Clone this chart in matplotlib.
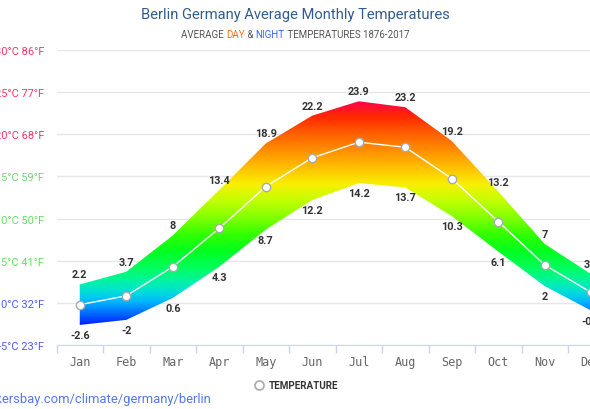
import numpy as np
import matplotlib
matplotlib.use("Agg")
import matplotlib.pyplot as plt
from matplotlib.colors import LinearSegmentedColormap
from matplotlib.lines import Line2D

months = ["Jan", "Feb", "Mar", "Apr", "May", "Jun", "Jul", "Aug", "Sep", "Oct", "Nov", "Dec"]
day_high = [2.2, 3.7, 8.0, 13.4, 18.9, 22.2, 23.9, 23.2, 19.2, 13.2, 7.0, 3.4]
night_low = [-2.6, -2.0, 0.6, 4.3, 8.7, 12.2, 14.2, 13.7, 10.3, 6.1, 2.0, -0.9]
avg_temp = [-0.2, 0.85, 4.3, 8.85, 13.8, 17.2, 19.05, 18.45, 14.75, 9.65, 4.5, 1.25]
ytick_c = [-5, 0, 5, 10, 15, 20, 25, 30]
ytick_labels = ["-5°C 23°F", "0°C 32°F", "5°C 41°F", "10°C 50°F", "15°C 59°F",
                "20°C 68°F", "25°C 77°F", "30°C 86°F"]
ytick_colors = ["#4a5cff", "#4a5cff", "#66dd66", "#66dd66", "#66dd66",
                "#ff3366", "#ff3366", "#ff3366"]

W, H = 590, 410
fig = plt.figure(figsize=(W / 100, H / 100), dpi=100)
fig.patch.set_facecolor("white")

ax_left, ax_right = 56.5, 614.5
ax_top, ax_bot = 50.8, 346.2
ax = fig.add_axes([ax_left / W, (H - ax_bot) / H, (ax_right - ax_left) / W, (ax_bot - ax_top) / H])
ax.set_facecolor("white")
ax.set_xlim(-0.5, 11.5)
ax.set_ylim(-5, 30)

# gridlines
ax.set_yticks(ytick_c)
ax.set_yticklabels(ytick_labels, fontfamily="Roboto", fontsize=7.9)
for lbl, col in zip(ax.get_yticklabels(), ytick_colors):
    lbl.set_color(col)
ax.tick_params(axis="y", length=0, pad=9)
ax.grid(axis="y", color="#e6e6e6", linewidth=1)
ax.set_axisbelow(True)

x = np.arange(len(months))
ax.set_xticks(x)
ax.set_xticklabels(months, fontfamily="DejaVu Sans Mono", fontsize=8.5, color="#666666")
ax.set_xticks(np.arange(-0.5, 12, 1), minor=True)
ax.tick_params(axis="x", which="major", length=0, pad=7)
ax.tick_params(axis="x", which="minor", length=6, color="#ccd6eb", width=1)
for s in ["top", "right", "left"]:
    ax.spines[s].set_visible(False)
ax.spines["bottom"].set_color("#ccd6eb")

# gradient band
stops = [(-5, "#0000ff"), (-3, "#0010ff"), (-1.5, "#0060ff"), (0, "#00b4ff"), (1, "#00d8e0"),
         (2.2, "#00f0b0"), (4, "#00ff60"), (6, "#00ff20"), (8, "#30ff00"), (10, "#80ff00"),
         (12, "#c0ff00"), (14, "#f8f000"), (16, "#ffc000"), (18, "#ff9000"), (20, "#ff6000"),
         (22, "#ff2a00"), (24, "#ff0050"), (30, "#ff0070")]
lo, hi = -5, 30
cmap = LinearSegmentedColormap.from_list("temp", [((t - lo) / (hi - lo), c) for t, c in stops])
poly = ax.fill_between(x, night_low, day_high, color="none", linewidth=0)
grad = np.linspace(lo, hi, 400).reshape(-1, 1)
im = ax.imshow(grad, cmap=cmap, vmin=lo, vmax=hi, origin="lower", aspect="auto",
               extent=[-0.5, 11.5, lo, hi], zorder=2, interpolation="bilinear")
im.set_clip_path(poly.get_paths()[0], transform=ax.transData)
ax.set_xlim(-0.5, 11.5)
ax.set_ylim(-5, 30)

# average line
ax.plot(x, avg_temp, color="white", linewidth=1, zorder=3,
        marker="o", markersize=6, markerfacecolor="white", markeredgecolor="#aaaaaa",
        markeredgewidth=1)

# labels
for xi, h, l in zip(x, day_high, night_low):
    ax.annotate(f"{h:g}", (xi, h), xytext=(0, 10), textcoords="offset pixels",
                ha="center", va="center", fontsize=7.8, fontweight="bold",
                color="#333333", fontfamily="Roboto", zorder=4, annotation_clip=False)
    ax.annotate(f"{l:g}", (xi, l), xytext=(0, -10), textcoords="offset pixels",
                ha="center", va="center", fontsize=7.8, fontweight="bold",
                color="#333333", fontfamily="Roboto", zorder=4, annotation_clip=False)

# title
fig.text(295 / W, 1 - 15 / H, "Berlin Germany Average Monthly Temperatures",
         ha="center", va="center", fontsize=10.6, color="#335c8c", fontfamily="Roboto")

# subtitle with coloured parts
parts = [("AVERAGE ", "#555555"), ("DAY", "#ff7020"), (" & ", "#555555"),
         ("NIGHT", "#3366ff"), (" TEMPERATURES 1876-2017", "#555555")]
renderer = fig.canvas.get_renderer()
texts = []
widths = []
for s, c in parts:
    t = fig.text(0, 1 - 35 / H, s, ha="left", va="center", fontsize=7.0, color=c,
                 fontfamily="Roboto")
    bb = t.get_window_extent(renderer=renderer)
    texts.append(t)
    widths.append(bb.width)
total = sum(widths)
xpos = 295 - total / 2
for t, w in zip(texts, widths):
    t.set_x(xpos / W)
    xpos += w

# legend
fig.add_artist(Line2D([259 / W], [1 - 386 / H], marker="o", markersize=6.5,
                      markerfacecolor="white", markeredgecolor="#aaaaaa",
                      markeredgewidth=1.2, linestyle="none", transform=fig.transFigure))
fig.text(269 / W, 1 - 386 / H, "TEMPERATURE", ha="left", va="center", fontsize=7.1,
         fontweight="bold", color="#333333", fontfamily="Roboto")

# source
fig.text(211 / W, 1 - 400 / H, "hikersbay.com/climate/germany/berlin", ha="right",
         va="center", fontsize=9.4, color="#5577ee", fontfamily="Roboto")

fig.savefig("out.png", dpi=100, facecolor="white")
